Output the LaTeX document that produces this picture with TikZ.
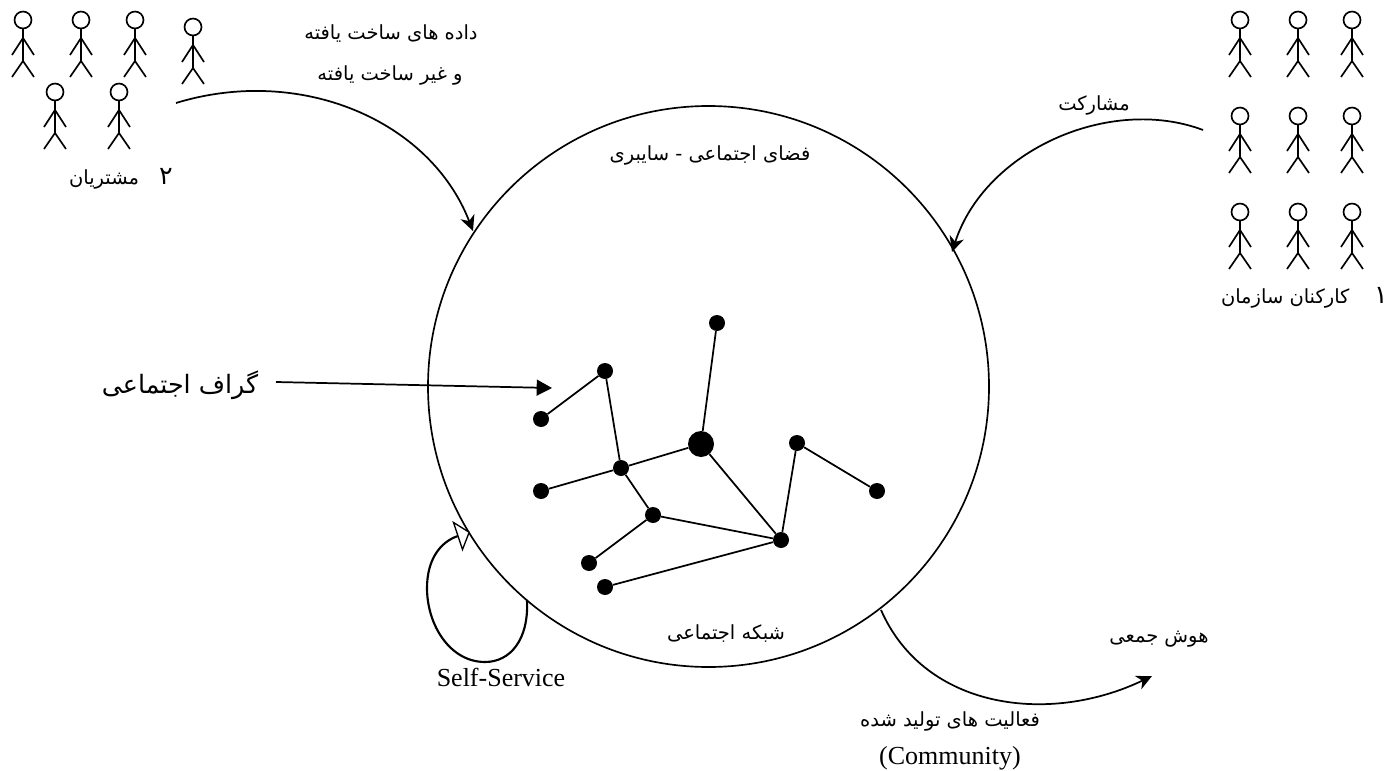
\documentclass[tikz,border=0pt]{standalone}
\usepackage{fontspec}
\setmainfont{Liberation Serif}
\TeXXeTstate=1
\newfontfamily\arabicfont[Script=Arabic]{DejaVu Sans}
\usetikzlibrary{arrows.meta}
\newcommand{\fatext}[1]{{\arabicfont\beginR #1\endR}}
\newcommand{\fadigit}[1]{{\fontsize{19}{22}\selectfont #1}}
\tikzset{
  x=0.75pt,y=-0.75pt,
  ln/.style={line width=1.25pt,black},
  conn/.style={line width=1.3pt,black,-{Stealth[length=11.5pt,width=11pt,inset=3.5pt]}},
  dot/.style={circle,fill=black,inner sep=0pt,minimum size=12pt},
  bigdot/.style={circle,fill=black,inner sep=0pt,minimum size=19.5pt},
  edge/.style={line width=1.3pt,black},
  lbl/.style={inner sep=0pt,font=\fontsize{14.6}{16}\selectfont},
  lat/.style={inner sep=0pt,font=\fontsize{19.5}{22}\selectfont},
  person/.pic={
    \draw[ln] (0,0) circle (8.5);
    \draw[ln] (0,8.5) -- (0,41) (0,18) -- (-11,35) (0,18) -- (11,35) (-11,57) -- (0,41) -- (11,57);
  }
}
\begin{document}
\begin{tikzpicture}
\useasboundingbox (0,0) rectangle (1386,771);
% main circle
\node[circle,draw,line width=1.25pt,inner sep=0pt,minimum size=420.75pt] (net) at (708.5,386.5) {};
% people left
\foreach \p/\q in {23/20,81/20,135/20,193/27,55/92,119/92} \pic at (\p,\q) {person};
% people right
\foreach \p in {1240,1298,1352} \foreach \q in {20,116,212} \pic at (\p,\q) {person};
% graph
\node[dot] (n1) at (717,323) {};
\node[dot] (n2) at (605,371) {};
\node[dot] (n3) at (541,419) {};
\node[bigdot] (n4) at (701,444) {};
\node[dot] (n5) at (621,468) {};
\node[dot] (n6) at (541,491) {};
\node[dot] (n7) at (653,515) {};
\node[dot] (n8) at (589,563) {};
\node[dot] (n9) at (605,587) {};
\node[dot] (n10) at (781,540) {};
\node[dot] (n11) at (797,443) {};
\node[dot] (n12) at (877,491) {};
\foreach \a/\b in {n1/n4,n2/n3,n2/n5,n5/n4,n5/n6,n5/n7,n7/n8,n7/n10,n9/n10,n4/n10,n10/n11,n11/n12}
  \draw[edge] (\a) -- (\b);
% labels
\node[lbl] (t1) at (391,34) {\fatext{داده های ساخت یافته}};
\node[lbl] (t2) at (390,75) {\fatext{و غیر ساخت یافته}};
\node[lbl,anchor=east] (t3) at (173,179) {\fatext{\fadigit{۲}\hspace{15pt}مشتریان}};
\node[lbl,anchor=east] (t4) at (1388,298) {\fatext{\fadigit{۱}\hspace{18.5pt}کارکنان سازمان}};
\node[lbl] (t5) at (1094,105) {\fatext{مشارکت}};
\node[lbl] (t6) at (710,155) {\fatext{فضای اجتماعی - سایبری}};
\node[lbl] (t7) at (726,634) {\fatext{شبکه اجتماعی}};
\node[lbl] (t8) at (1159,639) {\fatext{هوش جمعی}};
\node[lbl] (t9) at (950,721) {\fatext{فعالیت های تولید شده}};
\node[lat] (t10) at (950,758) {(Community)};
\node[lat] (t11) at (501,677) {Self-Service};
\node[inner sep=0pt,font=\fontsize{19}{22}\selectfont] (t12) at (180,385) {\fatext{گراف اجتماعی}};
% connectors
\coordinate (aS) at (176,103);
\coordinate (aE) at (473,231);
\draw[conn] (aS) .. controls (300,65) and (430,120) .. (aE);
\coordinate (bS) at (1203,130);
\coordinate (bE) at (952,252);
\draw[conn] (bS) .. controls (1110,95) and (985,150) .. (bE);
\coordinate (cS) at (881,610);
\coordinate (cE) at (1152,676);
\draw[conn] (cS) .. controls (925,710) and (1050,725) .. (cE);
\coordinate (dS) at (527,600);
\coordinate (dM) at (485,662);
\coordinate (dL) at (427,588);
\coordinate (dE) at (470,532);
\draw[line width=1.6pt,black,-{Triangle[open,fill=white,length=10pt,width=24pt,line width=1pt]}]
  (dS) .. controls (529,640) and (510,662) .. (dM)
  .. controls (450,662) and (427,625) .. (dL)
  .. controls (427,560) and (440,542) .. (dE);
\coordinate (eS) at (276,382);
\coordinate (eE) at (552,388);
\draw[line width=1.3pt,black,-{Triangle[length=11.5pt,width=12pt]}] (eS) -- (eE);
\end{tikzpicture}
\end{document}
